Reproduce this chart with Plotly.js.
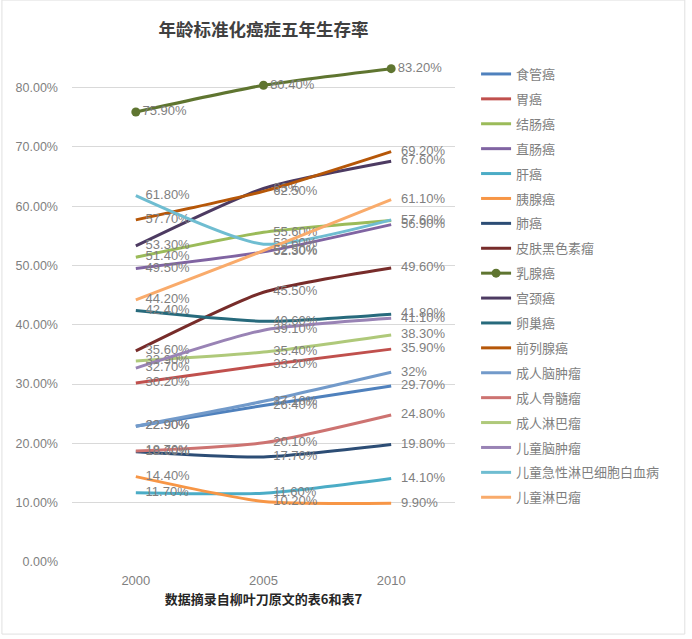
<!DOCTYPE html>
<html>
<head>
<meta charset="utf-8">
<script src="https://cdn.plot.ly/plotly-3.0.1.min.js"></script>
<style>html,body{margin:0;padding:0;background:#fff;}#chart{width:692px;height:639px;}</style>
</head>
<body>
<div id="chart"></div>
<script>
const years = ['2000', '2005', '2010'];
const seriesNames = ['食管癌','胃癌','结肠癌','直肠癌','肝癌','胰腺癌','肺癌','皮肤黑色素瘤','乳腺癌','宫颈癌','卵巢癌','前列腺癌','成人脑肿瘤','成人骨髓瘤','成人淋巴瘤','儿童脑肿瘤','儿童急性淋巴细胞白血病','儿童淋巴瘤'];
const esophagus = [22.9, 26.4, 29.7];
const stomach = [30.2, 33.2, 35.9];
const colon = [51.4, 55.6, 57.6];
const rectum = [49.5, 52.3, 56.9];
const liver = [11.7, 11.6, 14.1];
const pancreas = [14.4, 10.2, 9.9];
const lung = [18.6, 17.7, 19.8];
const melanoma = [35.6, 45.5, 49.6];
const breast = [75.9, 80.4, 83.2];
const cervix = [53.3, 63, 67.6];
const ovary = [42.4, 40.6, 41.8];
const prostate = [57.7, 62.5, 69.2];
const adultBrain = [22.9, 27.1, 32];
const adultMyeloma = [18.7, 20.1, 24.8];
const adultLymphoma = [33.9, 35.4, 38.3];
const childBrain = [32.7, 39.1, 41.1];
const childALL = [61.8, 53.6, 57.7];
const childLymphoma = [44.2, 52.5, 61.1];

const seriesValues = [esophagus, stomach, colon, rectum, liver, pancreas, lung, melanoma, breast, cervix, ovary, prostate, adultBrain, adultMyeloma, adultLymphoma, childBrain, childALL, childLymphoma];
const colors = ['#4F81BD','#C0504D','#9BBB59','#8064A2','#4BACC6','#F79646','#2C4D75','#772C2A','#5F7530','#4D3B62','#276A7C','#B65708','#729ACA','#CD7371','#AFC97A','#9983B5','#6FBDD1','#F9AB6B'];

function fmt(v){ return (Math.round(v) === v) ? (v + '%') : (v.toFixed(2) + '%'); }

const traces = seriesNames.map((name, i) => {
  const vals = seriesValues[i];
  const txt = vals.map(fmt);
  const isBreast = name === '乳腺癌';
  if (name === '儿童急性淋巴细胞白血病') txt[2] = '';
  return {
    type: 'scatter',
    mode: 'lines+markers+text',
    name: name,
    legendgroup: 'g' + i,
    x: years,
    y: vals,
    text: txt,
    textposition: 'middle right',
    textfont: {family: 'Liberation Sans, Arial, sans-serif', size: 13, color: '#7F7F7F'},
    line: {color: colors[i], width: 3, shape: 'spline', smoothing: 0.6},
    marker: isBreast ? {color: colors[i], size: 9} : {color: 'rgba(0,0,0,0)', size: 14},
    cliponaxis: false,
    hoverinfo: 'skip'
  };
});

const layout = {
  width: 692,
  height: 639,
  paper_bgcolor: '#ffffff',
  plot_bgcolor: '#ffffff',
  margin: {l: 72, r: 237, t: 58, b: 77},
  title: {
    text: '<b>年龄标准化癌症五年生存率</b>',
    font: {family: 'Noto Sans CJK SC, sans-serif', size: 17.5, color: '#404040'},
    x: 0.5, xref: 'paper', xanchor: 'center',
    y: 0.953, yref: 'container', yanchor: 'middle'
  },
  xaxis: {
    type: 'category',
    range: [-0.5, 2.5],
    showgrid: false,
    zeroline: false,
    showline: false,
    ticks: '',
    ticklabelstandoff: 9,
    tickfont: {family: 'Liberation Sans, Arial, sans-serif', size: 13, color: '#7F7F7F'},
    title: {
      text: '<b>数据摘录自柳叶刀原文的表6和表7</b>',
      font: {family: 'Noto Sans CJK SC, sans-serif', size: 13, color: '#262626'},
      standoff: 7
    }
  },
  yaxis: {
    range: [0, 85],
    dtick: 10,
    tick0: 0,
    tickformat: '.2f',
    ticksuffix: '%',
    showgrid: true,
    gridcolor: '#D9D9D9',
    gridwidth: 1,
    zeroline: false,
    showline: false,
    ticks: '',
    ticklabelstandoff: 13,
    tickfont: {family: 'Liberation Sans, Arial, sans-serif', size: 12.5, color: '#7F7F7F'}
  },
  legend: {
    x: 1.055, xanchor: 'left',
    y: 0.998, yanchor: 'top',
    font: {family: 'Noto Sans CJK SC, sans-serif', size: 13, color: '#7F7F7F'},
    itemwidth: 30,
    tracegroupgap: 5,
    maxheight: 620,
    bgcolor: 'rgba(0,0,0,0)'
  },
  annotations: [{
    x: years[2],
    y: childALL[2],
    xref: 'x', yref: 'y',
    text: fmt(childALL[2]),
    showarrow: true,
    arrowhead: 0,
    arrowwidth: 1,
    arrowcolor: '#A6A6A6',
    ax: 14, ay: 24,
    xanchor: 'left',
    font: {family: 'Liberation Sans, Arial, sans-serif', size: 13, color: '#7F7F7F'}
  }],
  shapes: [{
    type: 'rect', xref: 'paper', yref: 'paper',
    x0: -0.183, x1: 1.6, y0: -0.143, y1: 1.115,
    line: {color: '#E0E0E0', width: 1}
  }],
  showlegend: true
};

Plotly.newPlot('chart', traces, layout, {displayModeBar: false, staticPlot: true});
</script>
</body>
</html>
